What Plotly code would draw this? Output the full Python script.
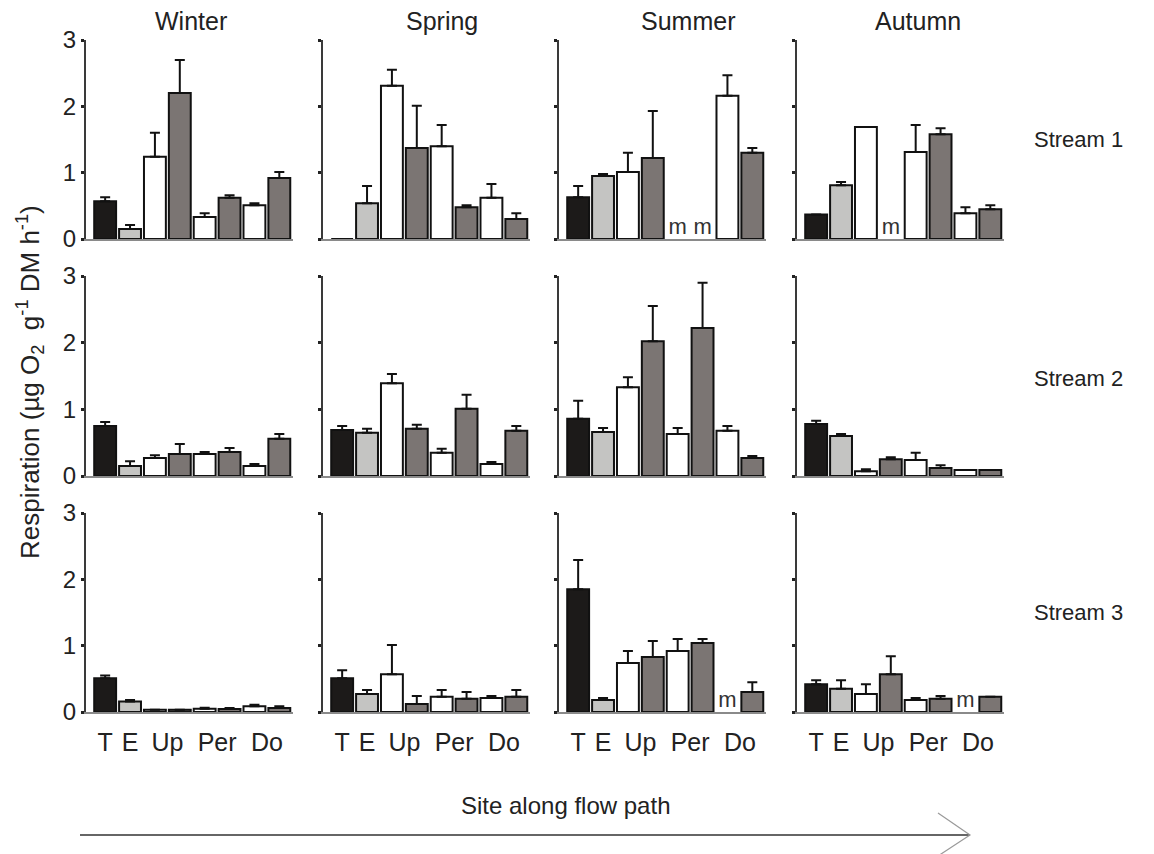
import plotly.graph_objects as go

W, H = 1154, 854

seasons = ["Winter", "Spring", "Summer", "Autumn"]
streams = ["Stream 1", "Stream 2", "Stream 3"]
tick_labels = ["T", "E", "Up", "Per", "Do"]
tick_pos = [0, 1, 2.5, 4.5, 6.5]
bar_colors = ["#1c1a19", "#c4c4c2", "#ffffff", "#7b7573", "#ffffff", "#7b7573", "#ffffff", "#7b7573"]

# mean respiration per site (8 bars: T, E, Up-w, Up-g, Per-w, Per-g, Do-w, Do-g); None = missing (m)
s1_winter = [0.57, 0.15, 1.24, 2.20, 0.33, 0.62, 0.51, 0.92]
s1_spring = [0.0, 0.54, 2.31, 1.37, 1.40, 0.48, 0.62, 0.30]
s1_summer = [0.63, 0.95, 1.01, 1.22, None, None, 2.16, 1.30]
s1_autumn = [0.37, 0.81, 1.69, None, 1.31, 1.58, 0.39, 0.45]
s2_winter = [0.75, 0.15, 0.27, 0.33, 0.33, 0.36, 0.15, 0.56]
s2_spring = [0.69, 0.65, 1.39, 0.71, 0.35, 1.01, 0.18, 0.68]
s2_summer = [0.86, 0.66, 1.33, 2.02, 0.63, 2.22, 0.68, 0.27]
s2_autumn = [0.78, 0.60, 0.07, 0.25, 0.24, 0.12, 0.09, 0.09]
s3_winter = [0.51, 0.16, 0.035, 0.035, 0.05, 0.045, 0.085, 0.06]
s3_spring = [0.51, 0.27, 0.57, 0.12, 0.23, 0.20, 0.21, 0.23]
s3_summer = [1.85, 0.18, 0.74, 0.83, 0.92, 1.04, None, 0.30]
s3_autumn = [0.42, 0.35, 0.27, 0.57, 0.18, 0.20, None, 0.23]

# standard errors (upper error bars)
s1_winter_se = [0.06, 0.06, 0.36, 0.50, 0.06, 0.04, 0.03, 0.09]
s1_spring_se = [None, 0.26, 0.24, 0.64, 0.32, 0.03, 0.21, 0.09]
s1_summer_se = [0.17, 0.03, 0.29, 0.71, None, None, 0.31, 0.07]
s1_autumn_se = [None, 0.05, None, None, 0.41, 0.09, 0.09, 0.06]
s2_winter_se = [0.06, 0.07, 0.04, 0.15, 0.03, 0.06, 0.03, 0.07]
s2_spring_se = [0.06, 0.06, 0.14, 0.06, 0.06, 0.21, 0.03, 0.07]
s2_summer_se = [0.27, 0.06, 0.15, 0.53, 0.09, 0.68, 0.07, 0.03]
s2_autumn_se = [0.05, 0.03, 0.03, 0.03, 0.11, 0.04, None, None]
s3_winter_se = [0.04, 0.02, None, None, 0.015, 0.015, 0.025, 0.025]
s3_spring_se = [0.12, 0.06, 0.44, 0.12, 0.10, 0.10, 0.03, 0.10]
s3_summer_se = [0.44, 0.03, 0.18, 0.24, 0.18, 0.06, None, 0.15]
s3_autumn_se = [0.06, 0.13, 0.15, 0.27, 0.03, 0.04, None, None]

means = [
    [s1_winter, s1_spring, s1_summer, s1_autumn],
    [s2_winter, s2_spring, s2_summer, s2_autumn],
    [s3_winter, s3_spring, s3_summer, s3_autumn],
]
errs = [
    [s1_winter_se, s1_spring_se, s1_summer_se, s1_autumn_se],
    [s2_winter_se, s2_spring_se, s2_summer_se, s2_autumn_se],
    [s3_winter_se, s3_spring_se, s3_summer_se, s3_autumn_se],
]

# layout geometry (pixels)
col_x0 = [86, 323, 559, 797]
panel_w = 207
row_top = [40, 276, 513]
row_bot = [239, 476, 712]

FONT = "Liberation Sans, Arial, sans-serif"
TXT = "#222222"

fig = go.Figure()
layout = dict(
    template="none",
    width=W, height=H, autosize=False,
    margin=dict(l=0, r=0, t=0, b=0, pad=0, autoexpand=False),
    paper_bgcolor="white", plot_bgcolor="white",
    showlegend=False,
    font=dict(family=FONT, color=TXT, size=20),
    annotations=[], shapes=[],
)

x_idx = list(range(8))
for r in range(3):
    for c in range(4):
        k = r * 4 + c
        sfx = "" if k == 0 else str(k + 1)
        m = means[r][c]
        e = errs[r][c]
        fig.add_trace(go.Bar(
            x=x_idx, y=m, width=0.88,
            marker=dict(color=bar_colors, line=dict(color="#111111", width=2)),
            error_y=dict(type="data", symmetric=False, array=e,
                         arrayminus=[0] * 8, color="#111111", thickness=2, width=5),
            xaxis="x" + sfx, yaxis="y" + sfx,
        ))
        miss = [i for i, v in enumerate(m) if v is None]
        if miss:
            fig.add_trace(go.Scatter(
                x=miss, y=[0] * len(miss), mode="text", text=["m"] * len(miss),
                textposition="top center", textfont=dict(size=22, color="#333333", family=FONT),
                xaxis="x" + sfx, yaxis="y" + sfx, hoverinfo="skip",
            ))
        x0 = col_x0[c] / W
        x1 = (col_x0[c] + panel_w) / W
        y0 = 1 - row_bot[r] / H
        y1 = 1 - row_top[r] / H
        layout["xaxis" + sfx] = dict(
            domain=[x0, x1], range=[-0.77, 7.55], anchor="y" + sfx,
            showline=True, linecolor="#8a8a8a", linewidth=1.5,
            showgrid=False, zeroline=False, ticks="", automargin=False,
            tickmode="array", tickvals=tick_pos, ticktext=tick_labels,
            showticklabels=(r == 2), tickfont=dict(size=25, color=TXT, family=FONT),
            ticklabelstandoff=7,
            fixedrange=True,
        )
        layout["yaxis" + sfx] = dict(
            domain=[y0, y1], range=[0, 3], anchor="x" + sfx,
            showline=True, linecolor="#3a3a3a", linewidth=2,
            showgrid=False, zeroline=False, automargin=False,
            ticks="outside", ticklen=3, tickwidth=3, tickcolor="#222222",
            tickmode="array", tickvals=[0, 1, 2, 3],
            showticklabels=(c == 0), tickfont=dict(size=24, color=TXT, family=FONT),
            fixedrange=True,
        )

# season titles
season_x = [191, 442, 688, 918]
for s, sx in zip(seasons, season_x):
    layout["annotations"].append(dict(
        text=s, x=sx / W, y=1 - 21 / H, xref="paper", yref="paper",
        showarrow=False, font=dict(size=25, color=TXT, family=FONT),
        xanchor="center", yanchor="middle"))

# stream labels
stream_y = [140, 378, 612]
for s, sy in zip(streams, stream_y):
    layout["annotations"].append(dict(
        text=s, x=1078 / W, y=1 - sy / H, xref="paper", yref="paper",
        showarrow=False, font=dict(size=22, color=TXT, family=FONT),
        xanchor="center", yanchor="middle"))

# y axis title
layout["annotations"].append(dict(
    text="Respiration (µg O<sub>2</sub>  g<sup>-1</sup> DM h<sup>-1</sup>)",
    x=30 / W, y=1 - 382 / H, xref="paper", yref="paper", textangle=-90,
    showarrow=False, font=dict(size=26, color=TXT, family=FONT),
    xanchor="center", yanchor="middle"))

# x title
layout["annotations"].append(dict(
    text="Site along flow path", x=565 / W, y=1 - 805 / H, xref="paper", yref="paper",
    showarrow=False, font=dict(size=24, color=TXT, family=FONT),
    xanchor="center", yanchor="middle"))

# flow arrow
layout["shapes"].append(dict(type="line", xref="paper", yref="paper",
                             x0=80 / W, x1=970 / W, y0=1 - 835 / H, y1=1 - 835 / H,
                             line=dict(color="#333333", width=1.5)))
layout["shapes"].append(dict(type="path", xref="paper", yref="paper",
                             path=f"M {938/W} {1-813/H} L {970/W} {1-835/H} L {938/W} {1-856/H}",
                             line=dict(color="#9a9a9a", width=1.2)))

fig.update_layout(**layout)
fig.write_html(
    "out.html",
    config={"displayModeBar": False},
    post_script="document.body.style.margin='0';document.body.style.overflow='hidden';",
)
